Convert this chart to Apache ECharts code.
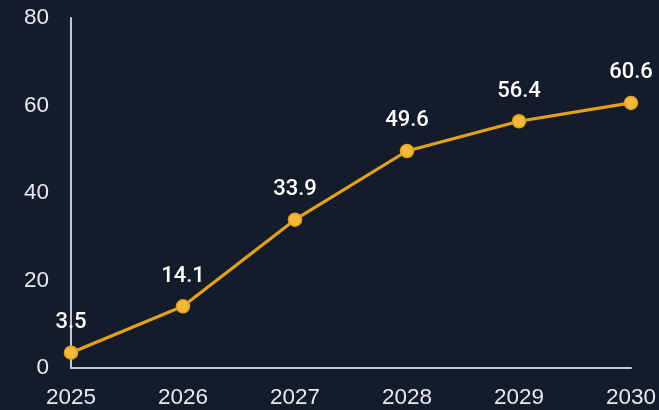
<!DOCTYPE html>
<html>
<head>
<meta charset="utf-8">
<script src="https://cdn.jsdelivr.net/npm/echarts@6/dist/echarts.min.js"></script>
<style>
html,body{margin:0;padding:0;background:#141c2b;}
#c{width:659px;height:410px;}
</style>
</head>
<body>
<div id="c"></div>
<script>
var years = ['2025', '2026', '2027', '2028', '2029', '2030'];
var values = [3.5, 14.1, 33.9, 49.6, 56.4, 60.6];
var yTicks = [0, 20, 40, 60, 80];

var chart = echarts.init(document.getElementById('c'));
chart.setOption({
  backgroundColor: '#141c2b',
  animation: false,
  grid: {left: 71, right: 28, top: 18, bottom: 42, containLabel: false},
  xAxis: {
    type: 'category',
    data: years,
    boundaryGap: false,
    axisLine: {lineStyle: {color: '#c3c8d0', width: 2}},
    axisTick: {show: false},
    axisLabel: {color: '#e8eaee', fontSize: 22.5, fontFamily: 'Liberation Sans', margin: 18}
  },
  yAxis: {
    type: 'value',
    min: yTicks[0], max: yTicks[yTicks.length - 1], interval: 20,
    axisLine: {show: true, lineStyle: {color: '#c3c8d0', width: 2}},
    axisTick: {show: false},
    splitLine: {show: false},
    axisLabel: {color: '#e8eaee', fontSize: 22.5, fontFamily: 'Liberation Sans', margin: 22}
  },
  series: [{
    type: 'line',
    data: values,
    symbol: 'circle',
    symbolSize: 13,
    lineStyle: {color: '#e3a11a', width: 3.2},
    itemStyle: {color: '#f2ba3c', borderColor: '#e3a11a', borderWidth: 1.5},
    label: {
      show: true, position: 'top', distance: 12,
      color: '#ffffff', fontSize: 22, fontFamily: 'Roboto', fontWeight: 500
    }
  }]
});
</script>
</body>
</html>
